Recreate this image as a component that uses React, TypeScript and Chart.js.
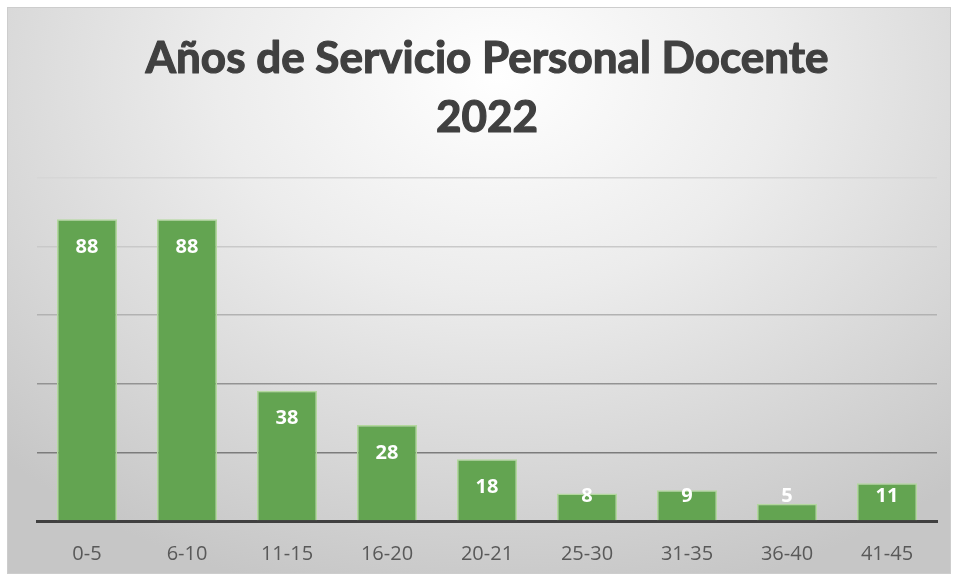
import React, { useEffect, useRef } from "react";
import { Chart, registerables } from "chart.js";

Chart.register(...registerables);

const categories: string[] = ["0-5", "6-10", "11-15", "16-20", "20-21", "25-30", "31-35", "36-40", "41-45"];
const docentes: number[] = [88, 88, 38, 28, 18, 8, 9, 5, 11];
const titleLines: string[] = ["Años de Servicio Personal Docente", "2022"];
const yMin = 0;
const yMax = 100;
const yStep = 20;

const gridColors: Record<number, string> = {
  0: "rgba(0,0,0,0)",
  20: "#7c7c7c",
  40: "#939393",
  60: "#b2b2b2",
  80: "#c9c9c9",
  100: "#d6d6d6",
};

const titlePlugin = {
  id: "customTitle",
  afterDraw(chart: any) {
    const ctx = chart.ctx;
    ctx.save();
    ctx.fillStyle = "#404040";
    ctx.strokeStyle = "#404040";
    ctx.lineWidth = 1.2;
    ctx.lineJoin = "round";
    ctx.font = "bold 44px Lato";
    ctx.textAlign = "center";
    ctx.textBaseline = "alphabetic";
    const cx = (chart.chartArea.left + chart.chartArea.right) / 2;
    ctx.fillText(titleLines[0], cx, 73);
    ctx.strokeText(titleLines[0], cx, 73);
    ctx.fillText(titleLines[1], cx, 132);
    ctx.strokeText(titleLines[1], cx, 132);
    ctx.restore();
  },
};

const labelPlugin = {
  id: "barLabels",
  afterDatasetsDraw(chart: any) {
    const ctx = chart.ctx;
    const meta = chart.getDatasetMeta(0);
    const data = chart.data.datasets[0].data as number[];
    ctx.save();
    ctx.fillStyle = "#ffffff";
    ctx.font = "bold 20px 'Open Sans'";
    ctx.textAlign = "center";
    ctx.textBaseline = "middle";
    meta.data.forEach((el: any, i: number) => {
      const y = Math.min(el.y + 28, el.base - 24);
      ctx.fillText(String(data[i]), el.x, y);
    });
    ctx.restore();
  },
};

export default function App() {
  const ref = useRef<HTMLCanvasElement | null>(null);
  useEffect(() => {
    if (!ref.current) return;
    const chart = new Chart(ref.current, {
      type: "bar",
      data: {
        labels: categories,
        datasets: [
          {
            label: "Docentes",
            data: docentes,
            backgroundColor: "#63a451",
            borderColor: "#b3d89e",
            borderWidth: 1.5,
            categoryPercentage: 0.6,
            barPercentage: 1.0,
          },
        ],
      },
      options: {
        responsive: false,
        animation: false,
        layout: { padding: { left: 37, right: 19, top: 178, bottom: 0 } },
        plugins: {
          legend: { display: false },
          title: { display: false },
          tooltip: { enabled: false },
        },
        scales: {
          x: {
            grid: { display: false },
            border: { display: true, color: "#404040", width: 3 },
            ticks: {
              color: "#595959",
              font: { family: "'Open Sans'", size: 20 },
              padding: 13,
            },
            afterFit: (s: any) => {
              s.height = 56;
            },
          },
          y: {
            min: yMin,
            max: yMax,
            ticks: { display: false, stepSize: yStep },
            border: { display: false },
            grid: {
              drawTicks: false,
              lineWidth: 1.5,
              color: (c: any) => gridColors[c.tick?.value] ?? "#cccccc",
            },
            afterFit: (s: any) => {
              s.width = 0;
            },
          },
        },
      },
      plugins: [titlePlugin, labelPlugin],
    });
    return () => chart.destroy();
  }, []);

  return (
    <div style={{ position: "absolute", left: 0, top: 0, width: 956, height: 577, background: "#ffffff" }}>
      <div
        style={{
          position: "absolute",
          left: 7,
          top: 7,
          width: 942,
          height: 565,
          border: "1px solid #cdcdcd",
          background: "radial-gradient(ellipse 75% 95% at 52% 12%, #ffffff 0%, #ececec 40%, #d6d6d6 75%, #c6c6c6 100%)",
        }}
      />
      <canvas ref={ref} width={956} height={577} style={{ position: "absolute", left: 0, top: 0 }} />
    </div>
  );
}
